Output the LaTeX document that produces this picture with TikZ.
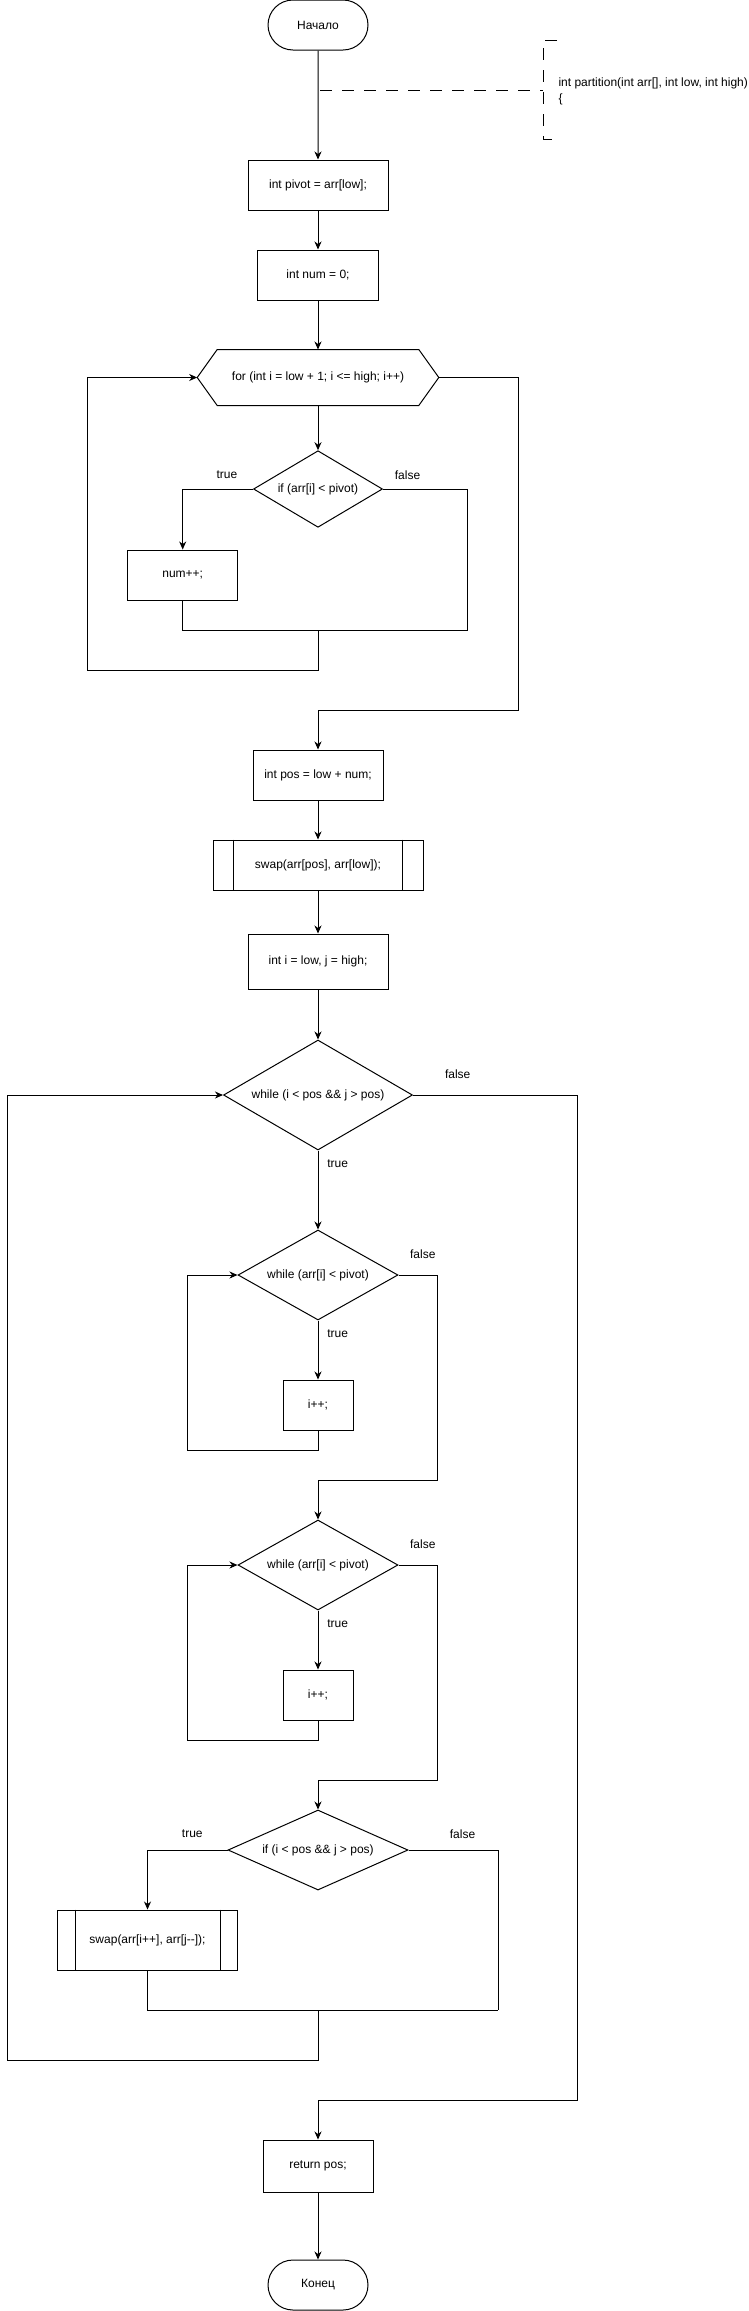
\documentclass[tikz,border=0pt]{standalone}
\usepackage{fontspec}
\setmainfont{Liberation Sans}
\usetikzlibrary{shapes.geometric,shapes.misc,arrows.meta}
\tikzset{
  base/.style={font=\fontsize{12pt}{16pt}\selectfont, inner sep=0pt, line width=1pt},
  proc/.style={base, draw, rectangle},
  term/.style={base, draw, rounded rectangle},
  dec/.style={base, draw, diamond, aspect=2},
  lbl/.style={base},
  wire/.style={line width=1pt},
  conn/.style={line width=1pt, -{Stealth[length=8pt,width=7pt,inset=2.5pt]}},
  annot/.style={line width=1pt, dash pattern=on 12pt off 10pt},
}
\begin{document}
\begin{tikzpicture}[x=1pt,y=-1pt]
\useasboundingbox (0,0) rectangle (749,2311);

% nodes
\node[term, minimum width=100pt, minimum height=50pt] (start) at (318,25) {Начало};
\node[proc, minimum width=140pt, minimum height=50pt] (pivot) at (318,185) {int pivot = arr[low];};
\node[proc, minimum width=121pt, minimum height=50pt] (num) at (318,275) {int num = 0;};
\node[base, minimum width=240.6pt, minimum height=55pt] (forhex) at (318,377.5) {for (int i = low + 1; i <= high; i++)};
\draw[wire] (forhex.west) -- ([xshift=20pt]forhex.north west) -- ([xshift=-20pt]forhex.north east) -- (forhex.east) -- ([xshift=-20pt]forhex.south east) -- ([xshift=20pt]forhex.south west) -- cycle;
\node[dec, minimum width=129pt, minimum height=76.6pt] (if1) at (318,489) {if (arr[i] < pivot)};
\node[proc, minimum width=110pt, minimum height=50pt] (numpp) at (182.7,575) {num++;};
\node[proc, minimum width=130pt, minimum height=50pt] (pos) at (318,775) {int pos = low + num;};
\node[proc, minimum width=210pt, minimum height=50pt] (swap1) at (318,865) {swap(arr[pos], arr[low]);};
\draw[wire] ([xshift=21pt]swap1.north west) -- ([xshift=21pt]swap1.south west);
\draw[wire] ([xshift=-21pt]swap1.north east) -- ([xshift=-21pt]swap1.south east);
\node[proc, minimum width=140pt, minimum height=55pt] (ij) at (318,961.5) {int i = low, j = high;};
\node[dec, minimum width=189pt, minimum height=110pt] (whA) at (318,1095) {while (i < pos \&\& j > pos)};
\node[dec, minimum width=160pt, minimum height=90pt] (whB) at (318,1275) {while (arr[i] < pivot)};
\node[proc, minimum width=70pt, minimum height=50pt] (incB) at (318,1405) {i++;};
\node[dec, minimum width=160pt, minimum height=90pt] (whC) at (318,1565) {while (arr[i] < pivot)};
\node[proc, minimum width=70pt, minimum height=50pt] (incC) at (318,1695) {i++;};
\node[dec, minimum width=180pt, minimum height=80pt] (if2) at (318,1850) {if (i < pos \&\& j > pos)};
\node[proc, minimum width=180pt, minimum height=60pt] (swap2) at (147.5,1940) {swap(arr[i++], arr[j{-}{-}]);};
\draw[wire] ([xshift=18pt]swap2.north west) -- ([xshift=18pt]swap2.south west);
\draw[wire] ([xshift=-18pt]swap2.north east) -- ([xshift=-18pt]swap2.south east);
\node[proc, minimum width=110pt, minimum height=52pt] (ret) at (318,2166) {return pos;};
\node[term, minimum width=100pt, minimum height=50pt] (end) at (318,2285) {Конец};

% annotation
\node[base, anchor=west, align=left] (ann) at (558,91) {int partition(int arr[], int low, int high)\\\{};
\coordinate (a1) at (320,90);
\coordinate (a2) at (543,90);
\draw[annot] (a1) -- (a2);
\draw[annot] (557,40) -- (543,40) -- (543,139) -- (557,139);

% labels
\node[lbl] (t1) at (227,475) {true};
\node[lbl] (f1) at (407.5,475) {false};
\node[lbl] (fA) at (457.7,1074) {false};
\node[lbl] (tA) at (337.7,1164) {true};
\node[lbl] (fB) at (422.8,1254) {false};
\node[lbl] (tB) at (337.7,1334) {true};
\node[lbl] (fC) at (422.8,1544) {false};
\node[lbl] (tC) at (337.7,1624) {true};
\node[lbl] (t2) at (192.3,1834) {true};
\node[lbl] (f2) at (462.5,1834) {false};

% bend coordinates
\coordinate (m1r) at (467.8,630);
\coordinate (m1) at (318,630);
\coordinate (lp1) at (87.5,670);
\coordinate (fx) at (518,710);
\coordinate (lpB) at (187.5,1450);
\coordinate (exB) at (437.6,1480);
\coordinate (lpC) at (187.5,1740);
\coordinate (exC) at (437.6,1780);
\coordinate (m2r) at (498,2010);
\coordinate (m2) at (318,2010);
\coordinate (lpA) at (7.2,2060);
\coordinate (exA) at (577.8,2100);

% connectors
\draw[conn] (start) -- (pivot);
\draw[conn] (pivot) -- (num);
\draw[conn] (num) -- (forhex.north);
\draw[conn] (forhex.south) -- (if1.north);
\draw[conn] (if1.west) -| (numpp.north);
\draw[wire] (if1.east) -| (m1r);
\draw[wire] (numpp.south) |- (m1r);
\draw[conn] (m1) |- (lp1) |- (forhex.west);
\draw[conn] (forhex.east) -| (fx) -| (pos.north);
\draw[conn] (pos) -- (swap1);
\draw[conn] (swap1) -- (ij);
\draw[conn] (ij) -- (whA);
\draw[conn] (whA.south) -- (whB.north);
\draw[conn] (whB.south) -- (incB.north);
\draw[conn] (incB.south) |- (lpB) |- (whB.west);
\draw[conn] (whB.east) -| (exB) -| (whC.north);
\draw[conn] (whC.south) -- (incC.north);
\draw[conn] (incC.south) |- (lpC) |- (whC.west);
\draw[conn] (whC.east) -| (exC) -| (if2.north);
\draw[conn] (if2.west) -| (swap2.north);
\draw[wire] (if2.east) -| (m2r);
\draw[wire] (swap2.south) |- (m2r);
\draw[conn] (m2) |- (lpA) |- (whA.west);
\draw[conn] (whA.east) -| (exA) -| (ret.north);
\draw[conn] (ret) -- (end);
\end{tikzpicture}
\end{document}
